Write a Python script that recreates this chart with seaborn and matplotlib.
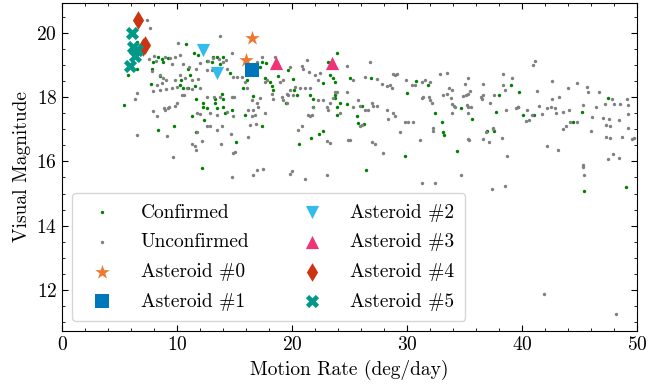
import matplotlib
matplotlib.use("Agg")
import matplotlib.pyplot as plt
import seaborn as sns
import pandas as pd
from matplotlib.ticker import MultipleLocator

# (motion rate [deg/day], visual magnitude) for the survey detections
confirmed = [
    (10.75, 19.65), (6.55, 19.73), (11.48, 19.36), (11.86, 19.30), (12.58, 19.14),
    (8.38, 19.26), (8.67, 19.19), (7.88, 19.09), (8.81, 19.09), (9.25, 19.22),
    (6.55, 18.88), (5.77, 18.68), (7.80, 18.88), (8.52, 18.65), (7.71, 18.42),
    (10.32, 18.52), (11.13, 18.68), (10.99, 18.88), (10.26, 18.37), (10.49, 18.27),
    (10.99, 18.27), (11.57, 18.34), (13.10, 19.24), (13.45, 19.24), (14.03, 19.26),
    (13.74, 19.04), (13.01, 19.09), (14.61, 18.75), (16.06, 18.54), (15.77, 18.30),
    (13.30, 17.93), (13.88, 18.11), (13.97, 17.94), (11.65, 17.93), (12.23, 17.81),
    (13.30, 17.81), (13.51, 17.65), (12.58, 17.65), (12.29, 17.70), (13.97, 17.68),
    (14.17, 17.52), (14.75, 17.60), (11.28, 17.42), (12.35, 17.29), (15.91, 17.45),
    (5.42, 17.74), (8.38, 16.98), (9.74, 17.11), (11.65, 16.93), (15.13, 16.61),
    (12.17, 15.78),
    (17.36, 19.09), (17.74, 19.06), (17.22, 18.95), (18.76, 18.65), (19.63, 18.85),
    (20.06, 18.58), (17.65, 18.61), (18.09, 18.47), (18.23, 18.34), (18.32, 18.22),
    (20.18, 18.22), (20.41, 18.06), (21.57, 18.06), (21.86, 17.93), (21.86, 17.68),
    (19.48, 17.83), (23.95, 19.36), (23.17, 19.09), (23.31, 18.68), (23.60, 18.61),
    (23.75, 18.47), (22.67, 18.44), (23.75, 18.06), (23.75, 17.96), (24.18, 17.83),
    (23.95, 17.68), (23.89, 17.45), (24.76, 17.78), (25.05, 18.61), (26.84, 18.61),
    (26.06, 17.72), (25.63, 17.42), (25.77, 17.21), (26.29, 17.17), (29.97, 18.13),
    (30.78, 18.49), (31.80, 18.39), (32.44, 17.50), (33.02, 17.24), (33.16, 16.93),
    (33.22, 16.83), (16.58, 18.03), (17.36, 17.09), (20.64, 16.54), (21.65, 16.72),
    (22.38, 16.85), (22.67, 16.96), (29.83, 16.16), (26.44, 15.72),
    (34.67, 17.67), (34.32, 16.32), (35.62, 17.32), (36.93, 16.95), (37.57, 16.96),
    (37.74, 17.55), (38.03, 18.08), (39.04, 18.37), (39.77, 18.16), (39.62, 17.68),
    (40.12, 17.43), (41.07, 17.43), (44.47, 17.22), (45.19, 17.55), (47.51, 17.96),
    (45.42, 15.07), (49.04, 15.19),
]

unconfirmed = [
    (7.36, 20.39), (7.65, 20.14), (13.74, 19.89), (10.12, 19.67), (14.81, 19.36),
    (8.03, 19.28), (8.99, 19.26), (9.39, 19.22), (9.83, 19.26), (10.26, 19.32),
    (7.59, 19.18), (8.17, 19.14), (9.54, 19.04), (10.49, 19.02), (11.07, 18.93),
    (11.65, 18.88), (12.00, 19.06), (12.72, 19.14), (13.16, 19.22), (13.68, 19.18),
    (13.97, 19.09), (14.26, 19.16), (7.80, 18.81), (8.52, 18.68), (8.81, 18.61),
    (9.04, 18.52), (8.67, 18.44), (8.23, 18.37), (9.83, 18.52), (10.26, 18.68),
    (10.70, 18.61), (11.28, 18.52), (11.86, 18.57), (12.58, 18.85), (13.01, 18.85),
    (14.32, 18.88), (14.90, 18.63), (15.19, 18.63), (15.62, 18.63), (15.91, 18.47),
    (16.06, 18.30), (7.94, 18.19), (8.52, 18.22), (9.04, 18.24), (9.54, 18.27),
    (9.97, 18.32), (10.84, 18.30), (11.28, 18.24), (12.00, 18.30), (10.41, 18.06),
    (10.61, 18.06), (12.58, 18.01), (13.22, 18.01), (13.74, 18.01), (14.75, 17.99),
    (14.96, 17.99), (9.97, 17.81), (9.83, 17.72), (9.33, 17.70), (8.87, 17.65),
    (8.96, 17.60), (9.25, 17.65), (7.94, 17.58), (8.23, 17.42), (6.55, 18.13),
    (6.35, 17.93), (11.71, 17.50), (12.00, 17.48), (12.87, 17.50), (13.45, 17.45),
    (14.32, 17.55), (14.90, 17.42), (16.20, 17.60), (12.58, 17.11), (12.87, 17.11),
    (13.88, 17.11), (11.71, 16.93), (13.45, 16.98), (14.67, 16.85), (16.20, 16.76),
    (9.10, 16.78), (6.55, 16.83), (12.14, 16.63), (11.28, 16.55), (11.57, 16.49),
    (11.65, 16.35), (13.80, 16.55), (14.90, 16.25), (15.04, 16.29), (9.68, 16.14),
    (14.78, 15.52),
    (17.36, 19.24), (18.52, 19.24), (16.93, 19.09), (17.65, 18.47), (17.80, 18.52),
    (18.96, 18.47), (19.25, 18.54), (19.83, 18.95), (20.84, 18.98), (20.99, 18.88),
    (21.28, 19.16), (21.51, 18.78), (22.00, 18.68), (22.44, 18.75), (21.57, 18.30),
    (21.14, 18.30), (20.70, 18.30), (20.27, 18.32), (19.83, 18.22), (19.54, 18.09),
    (18.23, 18.11), (18.38, 17.93), (19.10, 17.99), (19.25, 17.91), (19.54, 17.81),
    (19.68, 18.06), (20.12, 18.06), (22.29, 18.52), (22.29, 17.91), (22.73, 17.91),
    (23.02, 17.70), (23.17, 17.60), (23.31, 17.81), (23.60, 17.96), (23.75, 18.16),
    (23.95, 18.16), (24.76, 18.98), (25.34, 18.54), (26.35, 18.63), (26.79, 19.09),
    (27.37, 18.57), (27.80, 18.42), (25.77, 17.91), (25.92, 17.72), (26.35, 17.60),
    (26.64, 17.60), (26.94, 17.81), (27.08, 17.72), (27.37, 17.72), (25.34, 17.70),
    (24.76, 18.15), (24.18, 17.50), (21.86, 17.70), (21.43, 17.45), (21.57, 17.40),
    (21.72, 17.45), (20.84, 17.09), (20.55, 16.98), (23.02, 16.63), (23.31, 16.57),
    (24.91, 16.68), (25.05, 16.68), (25.92, 17.09), (26.07, 17.14), (26.94, 16.60),
    (27.22, 16.55), (28.29, 17.60), (28.53, 18.37), (28.67, 18.27), (28.82, 18.71),
    (28.96, 18.68), (29.11, 18.73), (28.24, 18.34), (29.92, 18.54), (30.41, 18.37),
    (30.70, 18.37), (31.57, 18.54), (32.00, 18.47), (31.28, 18.47), (31.28, 17.96),
    (31.43, 18.01), (31.87, 17.99), (32.00, 17.91), (32.15, 17.81), (32.88, 18.73),
    (33.46, 18.75), (33.52, 18.09), (33.61, 18.27), (33.17, 18.06), (28.82, 17.50),
    (28.96, 17.42), (29.83, 17.24), (30.12, 17.24), (30.56, 17.24), (28.38, 17.31),
    (29.40, 16.93), (32.24, 16.96), (32.30, 17.04), (31.14, 16.68), (27.95, 16.25),
    (16.35, 17.14), (16.64, 17.60), (16.50, 17.91), (16.87, 17.17), (16.79, 17.45),
    (16.50, 17.40), (17.07, 17.68), (16.93, 17.81), (17.22, 17.98), (17.65, 17.52),
    (19.83, 15.60), (19.98, 15.70), (21.14, 15.45), (23.02, 15.57), (16.93, 15.73),
    (17.45, 15.75), (16.64, 15.57), (31.28, 15.32), (32.45, 15.34),
    (40.99, 19.01), (41.13, 19.11), (33.88, 18.22), (33.80, 17.96), (33.88, 17.79),
    (34.09, 17.72), (34.17, 17.70), (33.88, 17.52), (35.04, 18.40), (35.33, 18.60),
    (34.90, 18.03), (35.13, 18.06), (35.33, 18.09), (35.48, 18.20), (35.25, 17.75),
    (35.33, 17.70), (35.54, 17.70), (35.28, 17.52), (36.64, 18.42), (36.58, 18.06),
    (36.41, 18.01), (36.49, 17.93), (37.22, 17.81), (37.57, 18.06), (38.38, 18.71),
    (38.32, 18.37), (38.61, 17.60), (38.52, 18.22), (39.10, 18.61), (39.48, 17.65),
    (39.68, 17.70), (40.35, 17.27), (40.41, 17.60), (40.64, 17.29), (40.84, 17.45),
    (41.34, 18.19), (41.48, 17.72), (41.71, 17.48), (42.20, 17.65), (42.52, 17.68),
    (42.58, 18.49), (42.58, 17.93), (42.87, 17.65), (42.93, 17.50), (43.25, 18.01),
    (43.54, 17.55), (43.97, 18.29), (44.12, 17.60), (44.18, 17.24), (44.76, 18.44),
    (45.63, 18.32), (45.71, 18.16), (45.34, 17.75), (44.81, 17.22), (43.60, 17.01),
    (43.83, 17.09), (46.06, 17.37), (45.98, 16.96), (46.44, 17.68), (46.73, 18.16),
    (47.08, 17.34), (47.22, 17.79), (47.28, 17.14), (47.28, 16.75), (47.60, 17.31),
    (47.66, 17.09), (47.66, 16.73), (47.86, 17.93), (48.00, 17.79), (48.53, 17.79),
    (48.47, 17.29), (48.67, 16.76), (49.11, 17.93), (49.19, 17.75), (49.25, 17.48),
    (49.25, 17.04), (49.54, 16.70), (49.75, 16.73), (35.33, 16.70), (35.42, 16.68),
    (36.64, 16.70), (36.87, 16.93), (37.16, 16.60), (37.45, 17.04), (37.51, 17.01),
    (38.23, 16.73), (38.67, 16.18), (42.20, 16.47), (43.17, 16.34), (47.95, 16.23),
    (47.49, 16.06), (48.44, 16.11), (45.34, 15.89), (45.34, 15.81), (45.40, 15.57),
    (34.67, 15.58), (38.52, 15.24), (37.36, 15.13), (41.90, 11.88), (48.17, 11.26),
]

# Tracked asteroids
asteroid_names = ["Asteroid #0", "Asteroid #1", "Asteroid #2",
                  "Asteroid #3", "Asteroid #4", "Asteroid #5"]
asteroid_rates = [
    [16.5, 16.0],
    [16.55],
    [12.23, 13.45],
    [18.6, 23.45],
    [6.58, 7.0, 7.25],
    [6.06, 6.2, 6.5, 6.35, 5.91],
]
asteroid_mags = [
    [19.84, 19.16],
    [18.85],
    [19.48, 18.75],
    [19.05, 19.07],
    [20.40, 19.55, 19.62],
    [20.0, 19.56, 19.46, 19.28, 18.96],
]
asteroid_markers = ["*", "s", "v", "^", "d", "X"]
asteroid_sizes = [120, 90, 90, 90, 90, 90]
asteroid_colors = ["#EE7733", "#0077BB", "#33BBEE", "#EE3377", "#CC3311", "#009988"]

conf_df = pd.DataFrame(confirmed, columns=["rate", "mag"])
unconf_df = pd.DataFrame(unconfirmed, columns=["rate", "mag"])

sns.set_style("ticks")
plt.rcParams.update({
    "font.family": "serif",
    "font.serif": ["cmr10"],
    "mathtext.fontset": "cm",
    "axes.formatter.use_mathtext": True,
    "font.size": 14,
    "text.color": "black",
    "axes.labelcolor": "black",
    "axes.edgecolor": "black",
    "axes.linewidth": 0.8,
    "xtick.color": "black",
    "ytick.color": "black",
    "xtick.direction": "in",
    "ytick.direction": "in",
    "xtick.top": True,
    "ytick.right": True,
    "xtick.major.size": 4,
    "ytick.major.size": 4,
    "xtick.minor.size": 2,
    "ytick.minor.size": 2,
    "xtick.major.width": 0.8,
    "ytick.major.width": 0.8,
    "xtick.minor.width": 0.6,
    "ytick.minor.width": 0.6,
    "xtick.labelsize": 14,
    "ytick.labelsize": 14,
})

fig = plt.figure(figsize=(6.5, 3.87), dpi=100)
ax = fig.add_axes([0.0954, 0.1447, 0.8846, 0.8475])

sns.scatterplot(data=conf_df, x="rate", y="mag", color="green", s=6,
                linewidth=0, label="Confirmed", ax=ax)
sns.scatterplot(data=unconf_df, x="rate", y="mag", color="gray", s=6,
                linewidth=0, label="Unconfirmed", ax=ax)

for name, xs, ys, mk, sz, col in zip(asteroid_names, asteroid_rates, asteroid_mags,
                                     asteroid_markers, asteroid_sizes, asteroid_colors):
    sns.scatterplot(x=xs, y=ys, marker=mk, color=col, s=sz, linewidth=0,
                    label=name, ax=ax)

ax.set_xlim(0, 50)
ax.set_ylim(10.72, 20.93)
ax.xaxis.set_major_locator(MultipleLocator(10))
ax.xaxis.set_minor_locator(MultipleLocator(2))
ax.yaxis.set_major_locator(MultipleLocator(2))
ax.yaxis.set_minor_locator(MultipleLocator(0.5))
ax.tick_params(which="both", top=True, right=True, direction="in")

ax.set_xlabel("Motion Rate (deg/day)")
ax.set_ylabel("Visual Magnitude")

ax.legend(loc="lower left", ncol=2, fontsize=14, frameon=True, fancybox=True,
          framealpha=0.8, edgecolor="0.8", columnspacing=2.2,
          handletextpad=1.0, labelspacing=0.6, borderpad=0.55)

fig.savefig("out.png", dpi=100)
